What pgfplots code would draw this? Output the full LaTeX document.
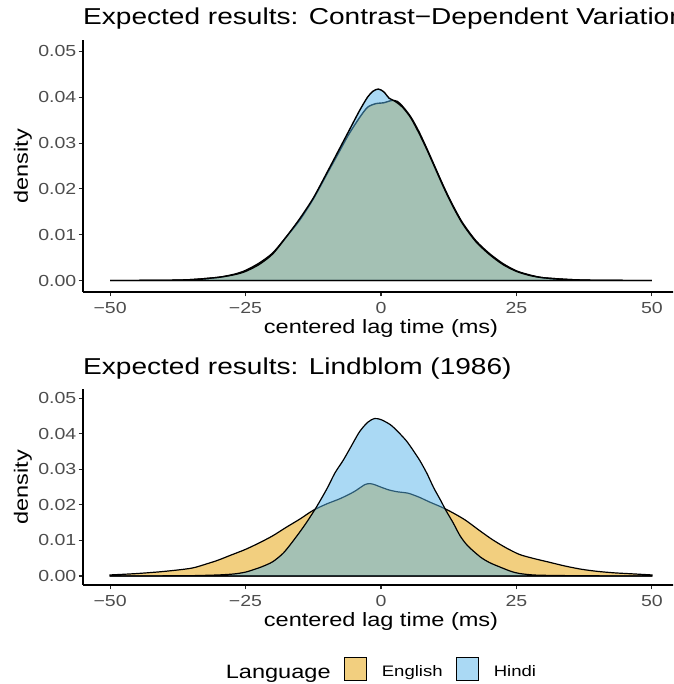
\documentclass[border=0pt]{standalone}
\usepackage{pgfplots}
\usepackage{pgfplotstable}
\pgfplotsset{compat=1.18}
\usepackage{fontspec}
\setmainfont{Liberation Sans}[FakeStretch=1.22]
\definecolor{eng}{HTML}{E69F00}
\definecolor{hin}{HTML}{56B4E9}
\definecolor{tickgray}{HTML}{4D4D4D}
\newcommand\titlefont{\fontsize{23}{27}\selectfont}
\newcommand\labfont{\fontsize{19.3}{23}\selectfont}
\newcommand\tickfont{\fontsize{16}{19}\selectfont}
\newcommand\legfont{\fontsize{15.2}{18}\selectfont}

\pgfplotstableread{
x y
-50 0
-40 0.00005
-35 0.0002
-30 0.0007
-27 0.0014
-25 0.0022
-22.5 0.0038
-20 0.0060
-17.5 0.0095
-15 0.0132
-12.5 0.0178
-10 0.0232
-8 0.0275
-6 0.0318
-4 0.0355
-2.5 0.0378
-1 0.0386
0.5 0.0388
2 0.0393
3 0.0391
4 0.0380
5.5 0.0357
7 0.0325
8.5 0.0287
10 0.0247
11.5 0.0207
13 0.0170
15 0.0127
17.5 0.0087
20 0.0059
22.5 0.0037
25 0.0021
27.5 0.0012
30 0.0006
35 0.0002
40 0.00005
50 0
}\engA
\pgfplotstableread{
x y
-50 0
-40 0.00005
-35 0.0002
-30 0.0007
-27 0.0013
-25 0.0020
-22.5 0.0035
-20 0.0058
-17.5 0.0095
-15 0.0135
-12.5 0.0180
-10 0.0235
-8 0.0280
-6 0.0325
-4 0.0370
-2.5 0.0400
-1.5 0.0413
-0.5 0.0418
0.5 0.0412
1.5 0.0398
2.5 0.0392
4 0.0378
5.5 0.0355
7 0.0322
8.5 0.0285
10 0.0245
11.5 0.0205
13 0.0168
15 0.0125
17.5 0.0085
20 0.0057
22.5 0.0035
25 0.0020
27.5 0.0011
30 0.0006
35 0.0002
40 0.00005
50 0
}\hinA
\pgfplotstableread{
x y
-50 0.0003
-45 0.0007
-40 0.0013
-35 0.0022
-32 0.0035
-30 0.0045
-27.5 0.0060
-25 0.0075
-22.5 0.0093
-20 0.0113
-17.5 0.0137
-15 0.0160
-12.5 0.0185
-10 0.0203
-7.5 0.0218
-5 0.0237
-3 0.0257
-2 0.0260
-1 0.0256
0 0.0250
1.5 0.0242
3 0.0237
5 0.0233
7 0.0222
9 0.0208
11 0.0195
13 0.0180
15.5 0.0158
18 0.0130
20.5 0.0103
23 0.0080
25.5 0.0061
28 0.0050
31 0.0039
34 0.0028
37 0.0019
40 0.0013
43 0.0009
46.5 0.0006
50 0.0003
}\engB
\pgfplotstableread{
x y
-50 0
-40 0.00005
-35 0.0001
-30 0.0003
-27 0.0006
-25 0.0011
-23.5 0.0018
-22 0.0026
-20 0.0040
-18 0.0065
-16 0.0103
-14 0.0145
-12 0.0192
-10 0.0245
-8.5 0.0290
-7 0.0325
-5.5 0.0365
-4 0.0405
-2.5 0.0432
-1.2 0.0443
0 0.0440
1.7 0.0426
3 0.0408
4.7 0.0380
6 0.0352
7.2 0.0324
8.5 0.0288
9.7 0.0249
11 0.0213
12 0.0184
13.3 0.0150
14.6 0.0113
16 0.0085
18.3 0.0054
20 0.0038
22 0.0025
24 0.0013
25.6 0.0007
28 0.0003
30 0.0002
35 0.0001
40 0.00005
50 0
}\hinB

\pgfplotsset{
  dens/.style={
    scale only axis, width=596pt,
    xmin=-55, xmax=55, ymin=-0.0025, ymax=0.0525,
    axis lines*=left,
    axis line style={-, black, line width=1.3pt},
    tick align=outside, major tick length=4.5pt,
    tick style={black!85, line width=1.1pt},
    xtick={-50,-25,0,25,50},
    xticklabels={−50,−25,0,25,50},
    ytick={0,0.01,0.02,0.03,0.04,0.05},
    yticklabels={0.00,0.01,0.02,0.03,0.04,0.05},
    scaled y ticks=false,
    xticklabel style={font=\tickfont, text=tickgray, anchor=base, inner sep=0pt, yshift=-17pt},
    yticklabel style={font=\tickfont, text=tickgray, anchor=east, inner sep=0pt, xshift=-2pt},
    xlabel={centered lag time (ms)},
    ylabel={density},
    xlabel style={font=\labfont, at={([yshift=-42pt]axis description cs:0.5,0)}, anchor=base, inner sep=0pt},
    ylabel style={font=\labfont, at={([xshift=-60pt]axis description cs:0,0.5)}, anchor=center, rotate=0, inner sep=0pt},
    title style={font=\titlefont, anchor=base west, inner sep=0pt},
    clip=true,
  },
  engplot/.style={draw=black, line width=1.4pt, fill=eng, fill opacity=0.5, smooth, tension=0.45},
  hinplot/.style={draw=black, line width=1.4pt, fill=hin, fill opacity=0.5, smooth, tension=0.45},
}

\begin{document}
\begin{tikzpicture}[x=1pt,y=1pt]
\useasboundingbox (0,0) rectangle (673,-684);
\clip (0,0) rectangle (673,-684);

\begin{axis}[dens, height=252pt, at={(83pt,-40pt)}, anchor=north west,
  title={Expected results: Contrast−Dependent Variation},
  title style={at={([yshift=9pt]axis description cs:0,1)}}]
\addplot[engplot] table {\engA} \closedcycle;
\addplot[hinplot] table {\hinA} \closedcycle;
\end{axis}

\begin{axis}[dens, height=195.5pt, at={(83pt,-389.4pt)}, anchor=north west,
  title={Expected results: Lindblom (1986)},
  title style={at={([yshift=9pt]axis description cs:0,1)}},
  legend columns=3,
  legend style={at={(axis description cs:0.4874,-0.43)}, anchor=center, draw=none, fill=none,
    nodes={inner sep=0pt},
    /tikz/every odd column/.append style={column sep=15pt},
    /tikz/every even column/.append style={column sep=13pt},
    font=\legfont},
  legend image code/.code={\draw[#1, line width=1.2pt] (0pt,-8.4pt) rectangle (22pt,14.8pt);},
]
\addlegendimage{empty legend}
\addlegendentry{\labfont Language}
\addplot[engplot, line width=1.2pt] table {\engB} \closedcycle;
\addlegendentry{English}
\addplot[hinplot, line width=1.2pt] table {\hinB} \closedcycle;
\addlegendentry{Hindi}
\end{axis}
\end{tikzpicture}
\end{document}
